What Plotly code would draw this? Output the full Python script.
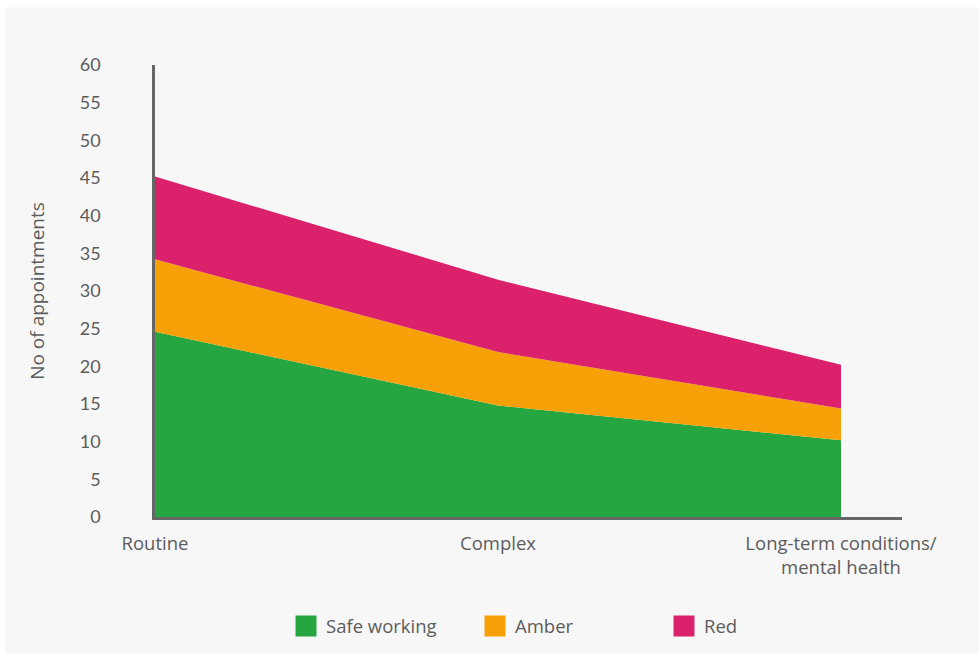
import plotly.graph_objects as go

categories = ["Routine", "Complex", "Long-term conditions/<br>mental health"]
cat_pos = [0, 1, 2]
safe_working = [24.6, 14.8, 10.2]
amber = [9.6, 7.1, 4.2]
red = [11.0, 9.6, 5.8]
y_ticks = list(range(0, 61, 5))

series = [
    ("Safe working", safe_working, "#26A640"),
    ("Amber", amber, "#F8A007"),
    ("Red", red, "#DB206C"),
]

fig = go.Figure()
for name, vals, col in series:
    fig.add_trace(go.Scatter(
        x=cat_pos, y=vals, name=name, mode="none", stackgroup="one",
        fillcolor=col, showlegend=False, hoverinfo="x+y+name"))
for name, vals, col in series:
    fig.add_trace(go.Scatter(
        x=[None], y=[None], name=name, mode="markers",
        marker=dict(symbol="square", size=16, color=col,
                    line=dict(color=col, width=5)),
        showlegend=True))

font_col = "#5c5c5c"
L, R, T, B = 155, 77, 65, 137.5
W, H = 979, 656
pw, ph = W - L - R, H - T - B

fig.add_shape(type="rect", xref="paper", yref="paper",
              x0=(5 - L) / pw, x1=(W - L) / pw,
              y0=(T + ph - H) / ph, y1=(T + ph - 7) / ph,
              fillcolor="#F7F7F7", line=dict(width=0), layer="below")

fig.update_layout(
    width=W, height=H,
    margin=dict(l=L, r=R, t=T, b=B),
    paper_bgcolor="white",
    plot_bgcolor="rgba(0,0,0,0)",
    font=dict(family="Lato", size=18, color=font_col),
    xaxis=dict(
        range=[0, 2 * pw / (841 - L)],
        tickvals=cat_pos, ticktext=categories,
        showgrid=False, zeroline=False,
        showline=True, linecolor="#666666", linewidth=2.5,
        ticks="outside", ticklen=8, tickcolor="rgba(0,0,0,0)",
        tickfont=dict(family="Open Sans", size=18.5, color=font_col),
    ),
    yaxis=dict(
        range=[0, 60], tickvals=y_ticks,
        showgrid=False, zeroline=False,
        showline=True, linecolor="#666666", linewidth=2.5,
        ticks="outside", ticklen=48, tickcolor="rgba(0,0,0,0)",
        title=dict(text="No of appointments", standoff=31,
                   font=dict(family="Open Sans", size=19, color=font_col)),
    ),
    legend=dict(
        orientation="h", x=(286 - L) / pw, xanchor="left",
        y=(518.5 - 627) / ph, yanchor="middle",
        traceorder="normal",
        entrywidth=144, entrywidthmode="pixels",
        font=dict(family="Open Sans", size=18.5, color=font_col),
        bgcolor="rgba(0,0,0,0)",
    ),
)

fig.write_html("out.html")
